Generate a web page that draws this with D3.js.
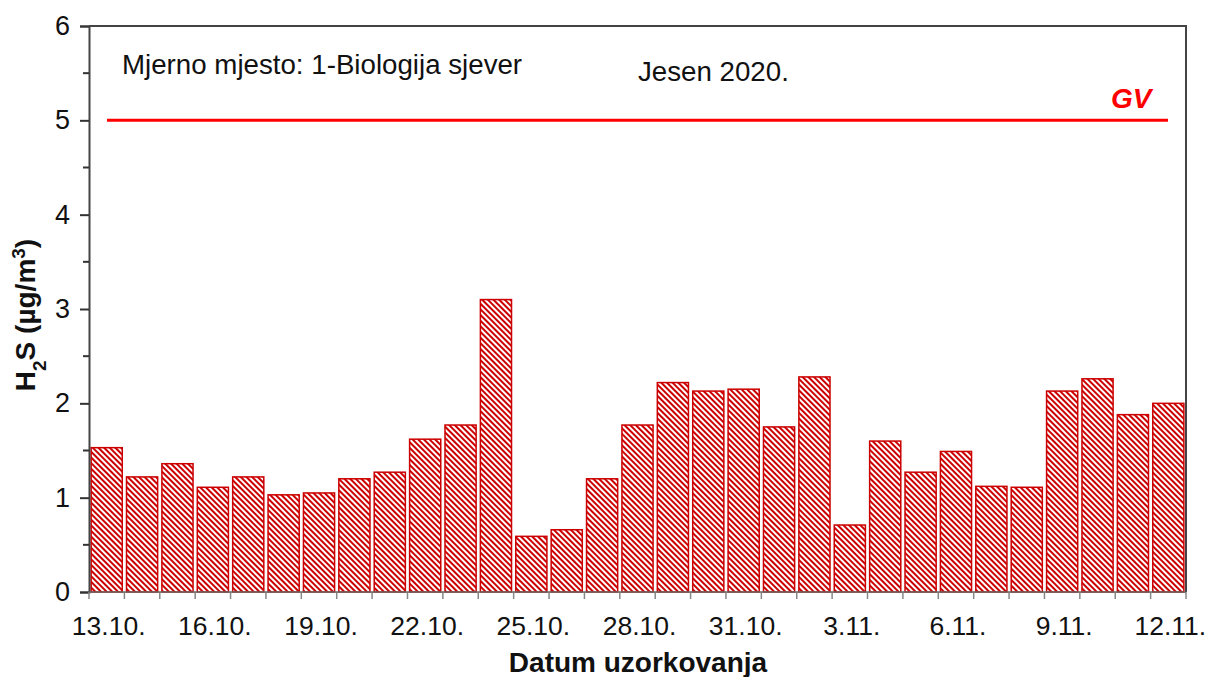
<!DOCTYPE html>
<html lang="hr">
<head>
<meta charset="UTF-8">
<title>H2S - Biologija sjever</title>
<script src="https://cdn.jsdelivr.net/npm/d3@7/dist/d3.min.js"></script>
<style>
    body { margin: 0; background: #fff; }
    text { font-family: Arial, "Liberation Sans", sans-serif; }
</style>
</head>
<body>
<script>
    // data
    const dates = ["13.10.", "14.10.", "15.10.", "16.10.", "17.10.", "18.10.", "19.10.", "20.10.",
        "21.10.", "22.10.", "23.10.", "24.10.", "25.10.", "26.10.", "27.10.", "28.10.", "29.10.",
        "30.10.", "31.10.", "1.11.", "2.11.", "3.11.", "4.11.", "5.11.", "6.11.", "7.11.", "8.11.",
        "9.11.", "10.11.", "11.11.", "12.11."];
    const h2s = [1.53, 1.22, 1.36, 1.11, 1.22, 1.03, 1.05, 1.20, 1.27, 1.62, 1.77, 3.10, 0.59,
        0.66, 1.20, 1.77, 2.22, 2.13, 2.15, 1.75, 2.28, 0.71, 1.60, 1.27, 1.49, 1.12, 1.11,
        2.13, 2.26, 1.88, 2.00];
    const shownDates = ["13.10.", "16.10.", "19.10.", "22.10.", "25.10.", "28.10.", "31.10.",
        "3.11.", "6.11.", "9.11.", "12.11."];
    const yTicks = [0, 1, 2, 3, 4, 5, 6];
    const yMinorTicks = [0.5, 1.5, 2.5, 3.5, 4.5, 5.5];
    const limitValue = 5;

    const width = 1206, height = 677;
    const plot = { left: 89, right: 1186, top: 26, bottom: 592 };

    const svg = d3.select("body").append("svg")
        .attr("width", width)
        .attr("height", height);

    // hatch fill for the bars
    const defs = svg.append("defs");
    const pat = defs.append("pattern")
        .attr("id", "hatch")
        .attr("patternUnits", "userSpaceOnUse")
        .attr("width", 4)
        .attr("height", 4)
        .attr("patternTransform", "rotate(-45)");
    pat.append("rect").attr("width", 4).attr("height", 4).attr("fill", "#fff");
    pat.append("rect").attr("width", 2).attr("height", 4).attr("fill", "#cc0000");

    const x = d3.scaleBand()
        .domain(dates)
        .range([plot.left, plot.right])
        .paddingInner(0.12)
        .paddingOuter(0.06);

    const y = d3.scaleLinear()
        .domain([0, 6])
        .range([plot.bottom, plot.top]);

    // bars
    svg.selectAll(".bar")
        .data(h2s)
        .enter().append("rect")
        .attr("class", "bar")
        .attr("x", (d, i) => x(dates[i]))
        .attr("y", d => y(d))
        .attr("width", x.bandwidth())
        .attr("height", d => y(0) - y(d))
        .attr("fill", "url(#hatch)")
        .attr("stroke", "#cc0000")
        .attr("stroke-width", 1.5);

    // limit value line
    svg.append("line")
        .attr("x1", plot.left + 18)
        .attr("x2", plot.right - 18)
        .attr("y1", y(limitValue))
        .attr("y2", y(limitValue))
        .attr("stroke", "#ff0000")
        .attr("stroke-width", 3);

    svg.append("text")
        .attr("x", 1111)
        .attr("y", 108)
        .attr("fill", "#ff0000")
        .style("font-size", "28px")
        .style("font-weight", "bold")
        .style("font-style", "italic")
        .text("GV");

    // frame (top and right)
    svg.append("path")
        .attr("d", `M${plot.left},${plot.top}H${plot.right}V${plot.bottom}`)
        .attr("fill", "none")
        .attr("stroke", "#444")
        .attr("stroke-width", 2);

    // y axis
    const yAxis = svg.append("g")
        .attr("transform", `translate(${plot.left},0)`)
        .call(d3.axisLeft(y).tickValues(yTicks).tickSize(9).tickPadding(10).tickFormat(d3.format("d")));
    yAxis.select(".domain").attr("stroke", "#444").attr("stroke-width", 2);
    yAxis.selectAll(".tick line").attr("stroke", "#333").attr("stroke-width", 2);
    yAxis.selectAll(".tick text")
        .attr("fill", "#111")
        .style("font-size", "27px")
        .style("font-family", "Arial, 'Liberation Sans', sans-serif");

    svg.append("g")
        .selectAll("line")
        .data(yMinorTicks)
        .enter().append("line")
        .attr("x1", plot.left - 6)
        .attr("x2", plot.left)
        .attr("y1", d => y(d))
        .attr("y2", d => y(d))
        .attr("stroke", "#333")
        .attr("stroke-width", 2);

    // x axis: ticks on band edges, labels in band centres
    const edges = d3.range(dates.length + 1).map(i => plot.left + i * x.step());
    svg.append("g")
        .selectAll("line")
        .data(edges)
        .enter().append("line")
        .attr("x1", d => d)
        .attr("x2", d => d)
        .attr("y1", plot.bottom)
        .attr("y2", plot.bottom + 7)
        .attr("stroke", "#888")
        .attr("stroke-width", 1.5);

    svg.append("line")
        .attr("x1", plot.left)
        .attr("x2", plot.right)
        .attr("y1", plot.bottom)
        .attr("y2", plot.bottom)
        .attr("stroke", "#666")
        .attr("stroke-width", 1.5);

    svg.append("g")
        .selectAll("text")
        .data(shownDates)
        .enter().append("text")
        .attr("x", d => x(d) + x.bandwidth() / 2 + 2)
        .attr("y", 635)
        .attr("text-anchor", "middle")
        .attr("fill", "#111")
        .style("font-size", "26.5px")
        .text(d => d);

    // axis titles
    svg.append("text")
        .attr("x", 638)
        .attr("y", 672)
        .attr("text-anchor", "middle")
        .attr("fill", "#111")
        .style("font-size", "28px")
        .style("font-weight", "bold")
        .text("Datum uzorkovanja");

    const yTitle = svg.append("text")
        .attr("transform", "translate(35,315) rotate(-90)")
        .attr("text-anchor", "middle")
        .attr("fill", "#111")
        .style("font-size", "28px")
        .style("font-weight", "bold");
    yTitle.append("tspan").text("H");
    yTitle.append("tspan").attr("baseline-shift", "sub").style("font-size", "19px").text("2");
    yTitle.append("tspan").text("S (µg/m");
    yTitle.append("tspan").attr("baseline-shift", "super").style("font-size", "19px").text("3");
    yTitle.append("tspan").text(")");

    // notes inside the plot
    svg.append("text")
        .attr("x", 122)
        .attr("y", 74)
        .attr("fill", "#111")
        .style("font-size", "27.7px")
        .text("Mjerno mjesto: 1-Biologija sjever");

    svg.append("text")
        .attr("x", 638)
        .attr("y", 81)
        .attr("fill", "#111")
        .style("font-size", "27.7px")
        .text("Jesen 2020.");
</script>
</body>
</html>
